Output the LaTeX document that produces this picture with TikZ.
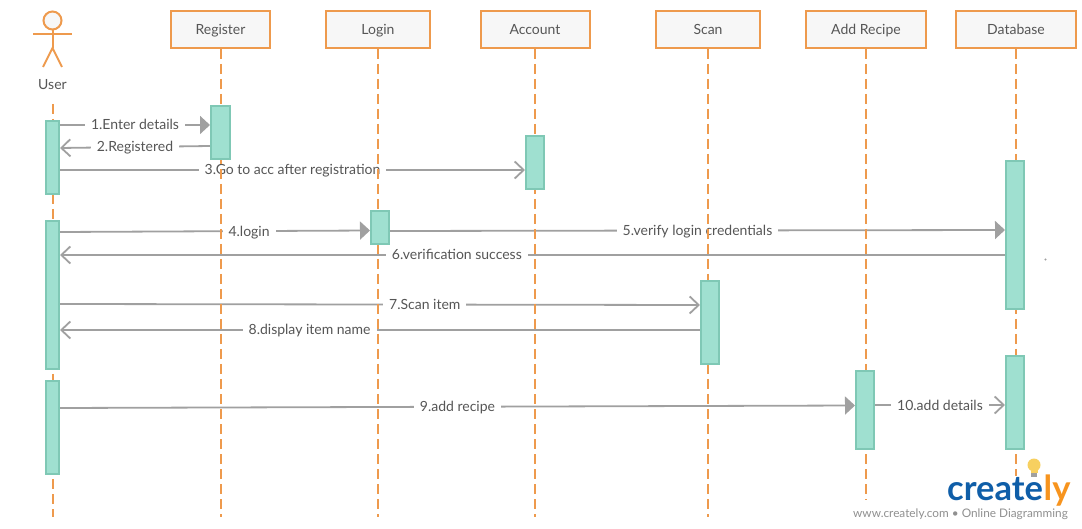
\documentclass[tikz,border=0pt]{standalone}
\usepackage{fontspec}
\setmainfont{Lato}
\usetikzlibrary{arrows.meta}
\definecolor{boxorange}{HTML}{EE9A4D}
\definecolor{barfill}{HTML}{9FE0D0}
\definecolor{barline}{HTML}{7FC8B5}
\definecolor{msggray}{HTML}{A0A0A0}
\definecolor{txtgray}{HTML}{565656}
\definecolor{logoblue}{HTML}{0F5EA8}
\definecolor{logoorange}{HTML}{F7941E}
\definecolor{bulbyellow}{HTML}{F7D060}
\pgfdeclarelayer{back}
\pgfsetlayers{back,main}
\tikzset{
  objbox/.style={draw=boxorange, line width=2pt, fill=white!97!black, text=txtgray, inner sep=0pt, minimum height=37pt, text height=11pt, text depth=1pt, font=\fontsize{14}{16}\selectfont},
  lifeline/.style={draw=boxorange, line width=2pt, dash pattern=on 10pt off 5pt},
  actorline/.style={draw=boxorange, line width=2pt},
  actbar/.style={draw=barline, line width=2pt, fill=barfill, inner sep=0pt},
  msgline/.style={draw=msggray, line width=1.8pt},
  msgfill/.style={msgline, -{Triangle[length=10pt,width=18pt]}},
  msgopen/.style={msgline, -{Straight Barb[length=9pt,width=17pt,line width=1.8pt]}},
  msglabel/.style={fill=white, text=txtgray, inner xsep=6pt, inner ysep=2pt, text height=11pt, text depth=1pt, font=\fontsize{14}{16}\selectfont},
  logotext/.style={anchor=base west, inner sep=0pt, font=\fontsize{34.5}{38}\bfseries\selectfont}
}
\begin{document}
\begin{tikzpicture}[x=1pt,y=-1pt]
  \useasboundingbox (0,0) rectangle (1082,529);
  \begin{pgfonlayer}{back}
    \fill[white] (0,0) rectangle (1082,529);
  \end{pgfonlayer}

  % user
  \node[circle, draw=boxorange, line width=2pt, fill=white!97!black, minimum size=18pt, inner sep=0pt] (head) at (52.5,20.5) {};
  \node[text=txtgray, text height=11pt, text depth=1pt, font=\fontsize{14}{16}\selectfont] (user) at (52.5,85) {User};
  \coordinate (armL) at (33,34);
  \coordinate (armR) at (72,34);
  \coordinate (hip) at (52.5,48);
  \coordinate (legL) at (43,67);
  \coordinate (legR) at (62,67);
  \draw[actorline] (head.south) -- (hip);
  \draw[actorline] (armL) -- (armR);
  \draw[actorline] (legL) -- (hip) -- (legR);
  \coordinate (userEnd) at (52.5,517);
  \draw[lifeline] (52.5,104) -- (userEnd);

  % objects and lifelines
  \foreach \name/\x/\w/\txt/\yend in {reg/220.5/99/Register/517, log/378/104/Login/517, acc/535/109/Account/517, scan/708/104/Scan/517, add/866/120/Add Recipe/500, db/1016/120/Database/476} {
    \node[objbox, minimum width=\w pt] (\name) at (\x,29.5) {\txt};
    \coordinate (\name End) at (\x,\yend);
    \draw[lifeline] (\name.south) -- (\name End);
  }

  % activation bars
  \foreach \name/\x/\y/\w/\h in {uA/52.5/157.5/13/73, uB/52.5/295/13/148, uC/52.5/427.5/13/93, regA/220.5/132.5/19/53, accA/535/162.5/18/53, logA/380/227.5/18/33, dbA/1015/235/18/148, dbB/1015/402.5/18/93, scanA/710/322.5/18/83, addA/865/410/18/78} {
    \node[actbar, minimum width=\w pt, minimum height=\h pt] (\name) at (\x,\y) {};
  }

  % messages
  \begin{pgfonlayer}{back}
    \draw[msgfill] (uA.east |- 0,125) -- node[msglabel] {1.Enter details} (regA.west |- 0,125);
    \draw[msgopen] (regA.west |- 0,146) -- node[msglabel] {2.Registered} (uA.east |- 0,148);
    \draw[msgopen] (uA.east |- 0,170) -- node[msglabel] {3.Go to acc after registration} (accA.west |- 0,170);
    \draw[msgfill] (uB.east |- 0,232) -- node[msglabel, pos=.61] {4.login} (logA.west |- 0,230.5);
    \draw[msgfill] (logA.east |- 0,231) -- node[msglabel] {5.verify login credentials} (dbA.west |- 0,230);
    \draw[msgopen] (dbA.west |- 0,255) -- node[msglabel, pos=.58] {6.verification success} (uB.east |- 0,255);
    \draw[msgopen] (uB.east |- 0,304) -- node[msglabel, pos=.57] {7.Scan item} (scanA.west |- 0,305);
    \draw[msgopen] (scanA.west |- 0,330) -- node[msglabel, pos=.61] {8.display item name} (uB.east |- 0,330);
    \draw[msgfill] (uC.east |- 0,408) -- node[msglabel] {9.add recipe} (addA.west |- 0,405.5);
    \draw[msgopen] (addA.east |- 0,405) -- node[msglabel] {10.add details} (dbB.west |- 0,405);
  \end{pgfonlayer}

  \fill[msggray] (1045.5,259.5) circle[radius=1.2pt];

  % logo
  \fill[bulbyellow] (1034,465) circle[radius=6.5pt];
  \fill[bulbyellow] (1030.5,468) rectangle (1037.5,473);
  \fill[msggray] (1031,473) rectangle (1037,477);
  \node[logotext, text=logoblue] (logo) at (947,500) {create};
  \node[logotext, text=logoorange] (logoEnd) at (1043.5,500) {ly};
  \node[anchor=base east, inner sep=0pt, text=msggray!90!black, font=\fontsize{11.8}{13}\selectfont] (slogan) at (1068,517) {www.creately.com • Online Diagramming};
\end{tikzpicture}
\end{document}
